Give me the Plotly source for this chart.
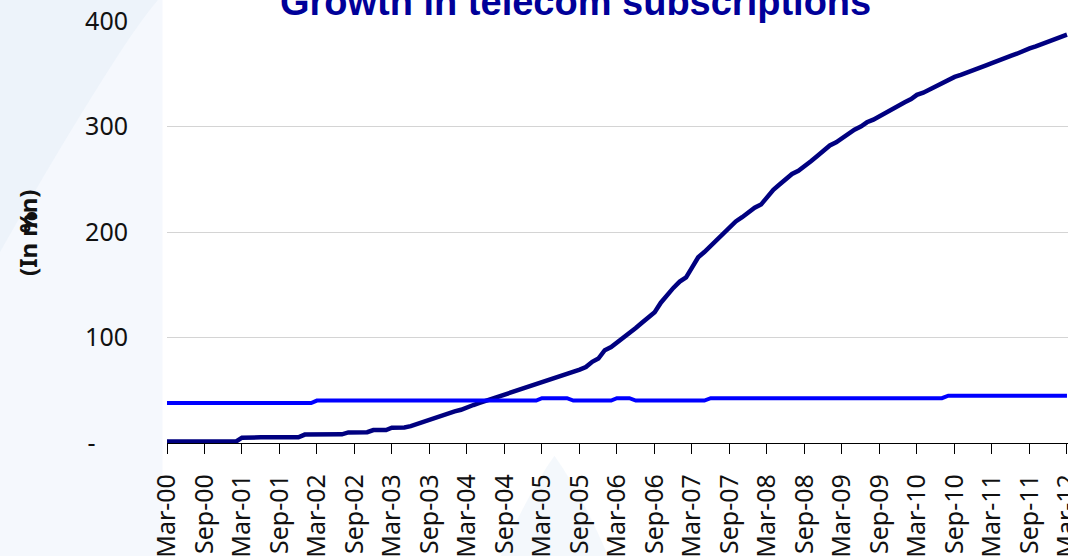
import pandas as pd
import plotly.graph_objects as go

# Monthly data, Mar-00 .. Mar-12
months = pd.date_range("2000-03-01", periods=145, freq="MS")

subscriptions_mn = [
    1.5, 1.5, 1.5, 1.5, 1.5, 1.5, 1.5, 1.5, 1.5, 1.5, 1.5, 1.5,          # Mar-00..Feb-01
    5.0, 5.4, 5.4, 5.4, 5.4, 5.4, 5.4, 5.4, 5.4, 5.4, 8.0, 8.2,          # Mar-01..Feb-02
    8.2, 8.2, 8.2, 8.2, 8.2, 10.0, 10.2, 10.2, 10.2, 12.3, 12.3, 12.3,   # Mar-02..Feb-03
    14.5, 14.5, 14.8, 16.0, 18.0, 20.0, 22.5, 24.5, 26.5, 28.5, 30.0, 31.5,  # Mar-03..Feb-04
    34.0, 36.0, 38.0, 40.0, 42.0, 44.0, 45.5, 47.5, 49.5, 52.0, 54.0, 56.0,  # Mar-04..Feb-05
    57.5, 59.0, 61.0, 63.0, 65.0, 67.0, 69.5, 72.0, 77.0, 80.0, 88.0, 91.0,  # Mar-05..Feb-06
    95.0, 100.0, 105.0, 109.0, 114.0, 119.0, 124.0, 133.0, 141.0, 147.0, 153.0, 157.0,  # Mar-06..Feb-07
    166.0, 176.0, 181.0, 187.0, 193.0, 199.0, 205.0, 210.0, 214.0, 219.0, 223.0, 226.0,  # Mar-07..Feb-08
    233.0, 240.0, 245.0, 250.0, 255.0, 258.0, 262.0, 267.0, 272.0, 277.0, 282.0, 285.0,  # Mar-08..Feb-09
    289.0, 293.0, 297.0, 300.0, 304.0, 306.5, 310.0, 313.0, 316.0, 320.0, 323.0, 326.0,  # Mar-09..Feb-10
    330.0, 332.0, 335.0, 339.0, 342.0, 344.0, 347.0, 349.0, 351.0, 353.0, 355.0, 358.0,  # Mar-10..Feb-11
    360.0, 362.0, 364.0, 367.0, 369.0, 372.0, 374.0, 376.0, 378.0, 380.0, 382.0, 385.0,  # Mar-11..Feb-12
    387.0,                                                                             # Mar-12
]

share_pct = (
    [37.8] * 24      # Mar-00..Feb-02
    + [40.2] * 36    # Mar-02..Feb-05
    + [42.5] * 5     # Mar-05..Jul-05
    + [40.2] * 7     # Aug-05..Feb-06
    + [42.5] * 3     # Mar-06..May-06
    + [40.2] * 12    # Jun-06..May-07
    + [42.5] * 38    # Jun-07..Jul-10
    + [44.8] * 20    # Aug-10..Mar-12
)

x_tickvals = months[::6]
x_ticktext = [d.strftime("%b-%y") for d in x_tickvals]

y_tickvals = [0, 100, 200, 300, 400]
y_ticktext = ["-\u00a0\u00a0\u00a0\u00a0\u00a0", "100", "200", "300", "400"]

TICK_FONT = dict(family="Noto Sans", size=25, color="#111111")

fig = go.Figure()
fig.add_trace(go.Scatter(x=months, y=subscriptions_mn, mode="lines",
                         line=dict(color="#000080", width=4.5), name="Subscriptions (mn)"))
fig.add_trace(go.Scatter(x=months, y=share_pct, mode="lines",
                         line=dict(color="#0000FF", width=4), name="%"))

# faint watermark-like background
shapes = [
    dict(type="rect", xref="paper", yref="paper", x0=-0.186, x1=-0.005, y0=-0.27, y1=1.06,
         fillcolor="rgba(225,236,248,0.35)", line=dict(width=0), layer="below"),
    dict(type="path", xref="paper", yref="paper",
         path="M -0.186,0.45 Q -0.12,0.70 -0.06,0.90 Q -0.03,1.00 -0.01,1.05 L -0.186,1.05 Z",
         fillcolor="rgba(220,232,246,0.3)", line=dict(width=0), layer="below"),
    dict(type="path", xref="paper", yref="paper",
         path="M 0.37,-0.27 Q 0.40,-0.12 0.43,-0.03 Q 0.46,-0.12 0.49,-0.27 Z",
         fillcolor="rgba(220,232,246,0.3)", line=dict(width=0), layer="below"),
]

annotations = [
    dict(text="<b>Growth in telecom subscriptions</b>", xref="paper", yref="paper",
         x=(575 - 167) / 901, y=1, xanchor="center", yanchor="middle", yshift=19,
         showarrow=False, font=dict(family="Liberation Sans", size=38, color="#000099")),
    dict(text="<b>(In mn)</b>", xref="paper", yref="paper",
         x=(27 - 167) / 901, y=(443 - 233) / 422, xanchor="center", yanchor="middle",
         textangle=-90, showarrow=False, font=dict(family="Noto Sans", size=24, color="#111111")),
    dict(text="<b>%</b>", xref="paper", yref="paper",
         x=(27 - 167) / 901, y=(443 - 222) / 422, xanchor="center", yanchor="middle",
         textangle=-90, showarrow=False, font=dict(family="Noto Sans", size=24, color="#111111")),
]

fig.update_layout(
    width=1068, height=556,
    margin=dict(l=167, r=0, t=21, b=113, autoexpand=False),
    paper_bgcolor="white", plot_bgcolor="rgba(0,0,0,0)",
    showlegend=False,
    shapes=shapes,
    annotations=annotations,
    xaxis=dict(
        type="date",
        automargin=False,
        range=[months[0], pd.Timestamp("2012-03-06")],
        tickmode="array", tickvals=x_tickvals, ticktext=x_ticktext,
        tickangle=-90, tickfont=TICK_FONT,
        ticks="outside", ticklen=10, tickcolor="black", tickwidth=1,
        showline=True, linecolor="black", linewidth=1.2,
        showgrid=False, zeroline=False,
        ticklabelstandoff=10,
        ticklabeloverflow="allow",
    ),
    yaxis=dict(
        automargin=False,
        range=[0, 400],
        tickvals=y_tickvals, ticktext=y_ticktext, tickfont=TICK_FONT,
        showgrid=True, gridcolor="#d4d4d4", gridwidth=1,
        showline=False, zeroline=False, ticks="",
        ticklabelstandoff=38,
    ),
)

fig.write_html("out.html")
